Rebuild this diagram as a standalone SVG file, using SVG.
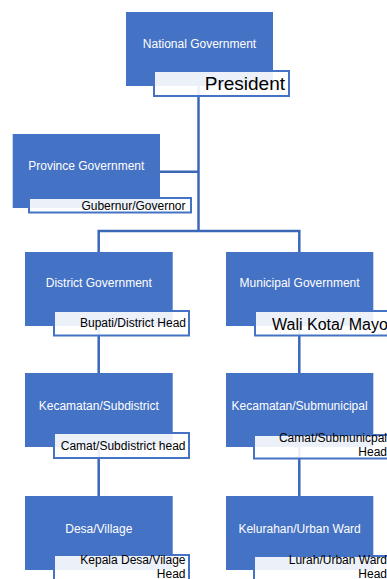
<svg xmlns="http://www.w3.org/2000/svg" width="387" height="579" viewBox="0 0 387 579">
<style>
.box{fill:#4472C4}
.lbl{fill:#ffffff;fill-opacity:0.9;stroke:#4472C4;stroke-width:2}
.nt{font-family:"Liberation Sans",Arial,sans-serif;font-size:12px;fill:#ffffff;text-anchor:middle}
.lt{font-family:"Liberation Sans",Arial,sans-serif;font-size:12px;fill:#000000;text-anchor:end}
.con{stroke:#3B67B7;stroke-width:2.5;fill:none}
</style>
<rect width="387" height="579" fill="#ffffff"/>
<g id="connectors">
<path class="con" d="M198.5 86 V231"/>
<path class="con" d="M160 171.7 H198.5"/>
<path class="con" d="M98.7 231 H299.3 M98.7 229.8 V252 M299.3 229.8 V252"/>
<path class="con" d="M98.7 326 V373 M98.7 447 V496"/>
<path class="con" d="M299.3 326 V373 M299.3 447 V496"/>
</g>
<g id="national">
<rect class="box" x="126" y="12" width="147" height="74"/>
<text class="nt" x="199.5" y="47.5">National Government</text>
<rect class="lbl" x="154" y="71" width="135" height="25"/>
<text class="lt" x="285" y="89.5" style="font-size:19px">President</text>
</g>
<g id="province">
<rect class="box" x="12.7" y="134" width="147.3" height="74"/>
<text class="nt" x="86.3" y="170">Province Government</text>
<rect class="lbl" x="29" y="198" width="162" height="14.5"/>
<text class="lt" x="185.5" y="209.5">Gubernur/Governor</text>
</g>
<g id="district">
<rect class="box" x="25" y="252" width="147.7" height="74"/>
<text class="nt" x="98.8" y="287">District Government</text>
<rect class="lbl" x="54" y="311" width="135" height="24.5"/>
<text class="lt" x="186" y="327">Bupati/District Head</text>
</g>
<g id="municipal">
<rect class="box" x="226" y="252" width="147.3" height="74"/>
<text class="nt" x="299.6" y="287">Municipal Government</text>
<rect class="lbl" x="255" y="311" width="135" height="24.5"/>
<text class="lt" x="272" y="329.5" style="font-size:16px;text-anchor:start">Wali Kota/ Mayor</text>
</g>
<g id="kecamatan-subdistrict">
<rect class="box" x="25" y="373" width="147.7" height="74"/>
<text class="nt" x="98.8" y="410">Kecamatan/Subdistrict</text>
<rect class="lbl" x="54" y="433" width="135" height="25"/>
<text class="lt" x="185.5" y="449.5">Camat/Subdistrict head</text>
</g>
<g id="kecamatan-submunicipal">
<rect class="box" x="226" y="373" width="147.3" height="74"/>
<text class="nt" x="299.6" y="410">Kecamatan/Submunicipal</text>
<rect class="lbl" x="254" y="435" width="135" height="23.5"/>
<text class="lt" x="387" y="442">Camat/Submunicpal</text>
<text class="lt" x="387" y="456.3">Head</text>
</g>
<g id="desa">
<rect class="box" x="25" y="496" width="147.7" height="74"/>
<text class="nt" x="98.8" y="532.5">Desa/Village</text>
<rect class="lbl" x="54" y="555" width="135" height="26"/>
<text class="lt" x="185.5" y="563.5">Kepala Desa/Vilage</text>
<text class="lt" x="185.5" y="577.8">Head</text>
</g>
<g id="kelurahan">
<rect class="box" x="226" y="496" width="147.3" height="74"/>
<text class="nt" x="299.6" y="532.5">Kelurahan/Urban Ward</text>
<rect class="lbl" x="254" y="556" width="135" height="26"/>
<text class="lt" x="387" y="563.5">Lurah/Urban Ward</text>
<text class="lt" x="387" y="577.8">Head</text>
</g>
</svg>
